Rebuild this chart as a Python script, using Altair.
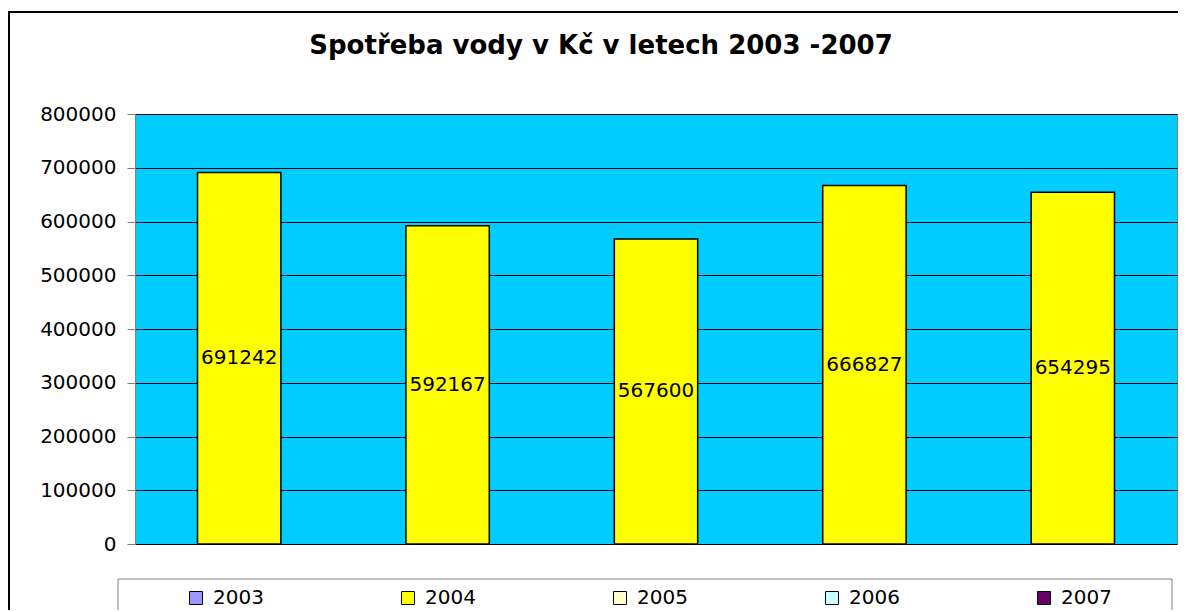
import altair as alt
import pandas as pd

FONT = "DejaVu Sans"

years = ["2003", "2004", "2005", "2006", "2007"]
values = [691242, 592167, 567600, 666827, 654295]
legend_colors = ["#9999FF", "#FFFF00", "#FFFFCC", "#CCFFFF", "#660066"]
y_ticks = [0, 100000, 200000, 300000, 400000, 500000, 600000, 700000, 800000]
title_text = "Spotřeba vody v Kč v letech 2003 -2007"

df = pd.DataFrame({"year": years, "value": values})
one = pd.DataFrame({"k": [0]})

x_enc = alt.X("year:N", scale=alt.Scale(domain=years, paddingInner=0.6, paddingOuter=0.3), axis=None)
y_scale = alt.Scale(domain=[0, 800000], nice=False)
y_axis = alt.Axis(values=y_ticks, format="d", title=None, grid=True, gridColor="black",
                  gridWidth=1, tickSize=8, tickColor="#808080", domainColor="#808080",
                  labelFont=FONT, labelFontSize=20, labelColor="black", labelPadding=11)

frame = alt.Chart(one).mark_rect(filled=False, stroke="black", strokeWidth=2, clip=False).encode(
    x=alt.value(-126), x2=alt.value(1060), y=alt.value(-102), y2=alt.value(520))

legbox = alt.Chart(one).mark_rect(filled=False, stroke="#808080", strokeWidth=1, clip=False).encode(
    x=alt.value(-17), x2=alt.value(1037), y=alt.value(465), y2=alt.value(520))

title = alt.Chart(one).mark_text(text=title_text, font=FONT, fontSize=26, fontWeight="bold",
                                 color="black", align="center", baseline="middle", clip=False).encode(
    x=alt.value(466), y=alt.value(-68))

hidden = alt.Chart(df).transform_calculate(mid="datum.value / 2").mark_square(
    size=1, filled=True, stroke="black", strokeWidth=1, opacity=1).encode(
    x=x_enc,
    y=alt.Y("mid:Q", scale=y_scale, axis=y_axis),
    color=alt.Color("year:N", scale=alt.Scale(domain=years, range=legend_colors),
                    legend=alt.Legend(title=None, orient="none", legendX=51, legendY=474,
                                      direction="horizontal", columns=5, columnPadding=134,
                                      symbolType="square", symbolSize=169, labelFont=FONT,
                                      labelFontSize=20, labelColor="black", labelOffset=7,
                                      padding=0, symbolStrokeColor="black", symbolStrokeWidth=1)))

bars = alt.Chart(df).mark_bar(color="#FFFF00", stroke="black", strokeWidth=1.5).encode(
    x=x_enc,
    y=alt.Y("value:Q", scale=y_scale, axis=y_axis))

text = alt.Chart(df).transform_calculate(mid="datum.value / 2").mark_text(
    font=FONT, fontSize=20, color="black", baseline="middle", align="center").encode(
    x=x_enc,
    y=alt.Y("mid:Q", scale=y_scale, axis=y_axis),
    text=alt.Text("value:Q", format="d"))

chart = alt.layer(frame, legbox, title, hidden, bars, text).properties(
    width=1042, height=430,
    autosize=alt.AutoSizeParams(type="none"),
    padding={"left": 127, "top": 106, "right": 1, "bottom": 66},
).configure_view(fill="#00CCFF", stroke="#808080", strokeWidth=1)

chart.save("out.html", embed_options={"renderer": "svg", "actions": False})
